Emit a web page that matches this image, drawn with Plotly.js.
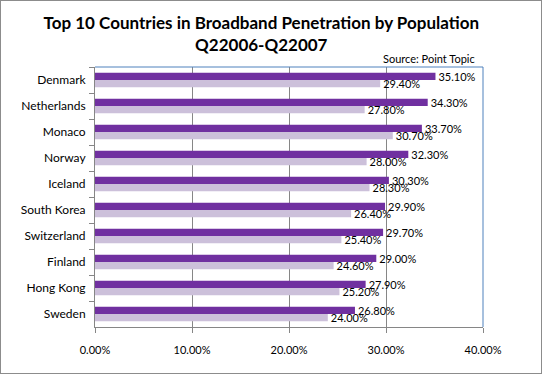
<!DOCTYPE html>
<html><head><meta charset="utf-8">
<script src="https://cdn.plot.ly/plotly-3.0.1.min.js"></script>
<style>
html,body{margin:0;padding:0;background:#fff;}
#wrap{width:542px;height:374px;box-sizing:border-box;border:1px solid #8c8c8c;}
#chart{width:540px;height:372px;}
</style></head>
<body><div id="wrap"><div id="chart"></div></div>
<script>
const countries = ["Denmark","Netherlands","Monaco","Norway","Iceland","South Korea","Switzerland","Finland","Hong Kong","Sweden"];
const q2007 = [35.1,34.3,33.7,32.3,30.3,29.9,29.7,29.0,27.9,26.8];
const q2006 = [29.4,27.8,30.7,28.0,28.3,26.4,25.4,24.6,25.2,24.0];
const xTicks = [0,10,20,30,40];
const xTickText = ["0.00%","10.00%","20.00%","30.00%","40.00%"];

const FONT = "Lato, 'Open Sans', sans-serif";
const labelFont = {family: FONT, size: 11, color: "#000"};

const traces = [
  {type:"bar", orientation:"h", name:"Q2 2007", y:countries, x:q2007,
   marker:{color:"#7030A0"}, text:q2007.map(v=>v.toFixed(2)+"%"),
   textposition:"outside", constraintext:"none", cliponaxis:false,
   textfont:labelFont, hoverinfo:"x+y"},
  {type:"bar", orientation:"h", name:"Q2 2006", y:countries, x:q2006,
   marker:{color:"#CCC0DA"}, text:q2006.map(v=>v.toFixed(2)+"%"),
   textposition:"outside", constraintext:"none", cliponaxis:false,
   textfont:labelFont, hoverinfo:"x+y"}
];

const layout = {
  width:540, height:372,
  margin:{l:94, r:58, t:66, b:46},
  paper_bgcolor:"#fff", plot_bgcolor:"#fff",
  showlegend:false,
  barmode:"group", bargap:0.44, bargroupgap:0,
  title:{text:"<b>Top 10 Countries in Broadband Penetration by Population<br>Q22006-Q22007</b>",
    font:{family:FONT, size:17, color:"#000"}, x:0.482, xanchor:"center",
    yref:"container", y:0.925, yanchor:"top"},
  xaxis:{range:[0,40], tickvals:xTicks, ticktext:xTickText, showgrid:true,
    gridcolor:"#868686", gridwidth:1, zeroline:false, showline:true, linecolor:"#868686",
    ticks:"outside", ticklen:5, tickcolor:"#868686", ticklabelstandoff:8,
    tickfont:{family:FONT, size:11, color:"#000"}, fixedrange:true},
  yaxis:{autorange:"reversed", showline:true, linecolor:"#868686", ticks:"outside",
    tickson:"boundaries", ticklen:5, tickcolor:"#868686", showgrid:false,
    ticklabelstandoff:6, tickfont:{family:FONT, size:12, color:"#000"}, fixedrange:true},
  shapes:[
    {type:"line", xref:"paper", yref:"paper", x0:0, x1:1, y0:1, y1:1, line:{color:"#4F81BD", width:1}},
    {type:"line", xref:"paper", yref:"paper", x0:1, x1:1, y0:0, y1:1, line:{color:"#4F81BD", width:1}}
  ],
  annotations:[
    {text:"Source: Point Topic", xref:"paper", yref:"paper", x:0.985, y:1, xanchor:"right",
     yanchor:"bottom", showarrow:false, yshift:0, font:{family:FONT, size:11, color:"#000"}}
  ]
};

Plotly.newPlot("chart", traces, layout, {displayModeBar:false, staticPlot:true});
</script></body></html>
